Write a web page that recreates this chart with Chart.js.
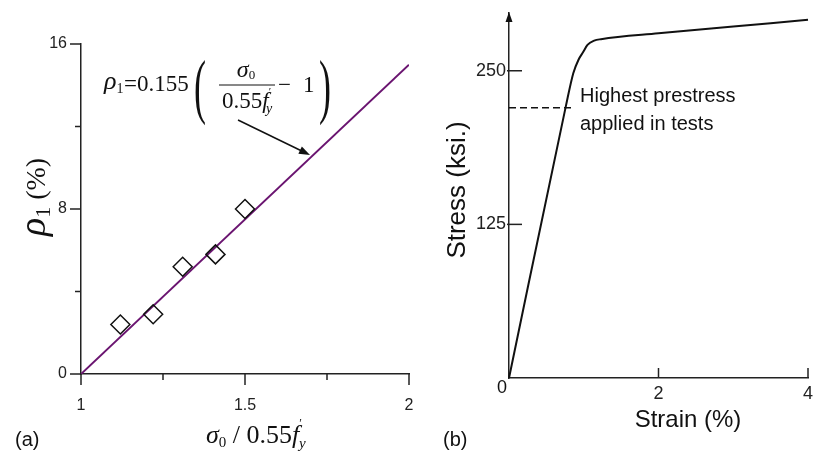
<!DOCTYPE html>
<html>
<head>
<meta charset="utf-8">
<script src="https://cdn.jsdelivr.net/npm/chart.js@4.4.0/dist/chart.umd.min.js"></script>
<style>
body { margin: 0; background: #fff; }
#wrapA { position: absolute; left: 0; top: 0; width: 420px; height: 451px; }
#wrapB { position: absolute; left: 420px; top: 0; width: 393px; height: 451px; }
</style>
</head>
<body>
<div id="wrapA"><canvas id="chartA" width="420" height="451"></canvas></div>
<div id="wrapB"><canvas id="chartB" width="393" height="451"></canvas></div>
<script>
// (a) reinforcement ratio against normalised prestress
var ratioX = [1.12, 1.22, 1.31, 1.41, 1.50];
var ratioY = [2.4, 2.9, 5.2, 5.8, 8.0];
var fitX = [1, 2];
var fitY = [0, 15];
var ticksAx = [1, 1.25, 1.5, 1.75, 2];
var labelsAx = ['1', '', '1.5', '', '2'];
var ticksAy = [0, 4, 8, 12, 16];
var labelsAy = ['0', '', '8', '', '16'];

// (b) strand stress-strain curve
var strain = [0, 0.76, 0.86, 0.93, 0.99, 1.05, 1.14, 1.23, 2, 3, 4];
var stress = [0, 221, 248, 259, 265, 271, 274.5, 275.7, 280.5, 286, 291.5];
var prestressX = [0, 0.88];
var prestressY = [220, 220];
var ticksBx = [0, 2, 4];
var labelsBx = ['', '2', '4'];
var ticksBy = [0, 125, 250];
var labelsBy = ['', '125', '250'];

Chart.defaults.font.family = 'Liberation Sans';
Chart.defaults.color = '#222';

function pts(xs, ys) {
	var out = [];
	for (var i in xs) out.push({x: xs[i], y: ys[i]});
	return out;
}

// keep the plot box where it is, no extra room for edge labels
function noEdgePad(s) {
	s.paddingLeft = 0; s.paddingRight = 0; s.paddingTop = 0; s.paddingBottom = 0;
}

// tick marks drawn along the axes, offsets are [from, to] measured outward
var tickMarks = {
	id: 'tickMarks',
	afterDraw: function(chart, args, opts) {
		var ctx = chart.ctx, xs = chart.scales.x, ys = chart.scales.y;
		ctx.save();
		ctx.strokeStyle = '#222';
		ctx.lineWidth = 1.5;
		xs.ticks.forEach(function(t, i) {
			var px = xs.getPixelForValue(t.value), s = opts.x[i];
			ctx.beginPath();
			ctx.moveTo(px, xs.top + s[0]);
			ctx.lineTo(px, xs.top + s[1]);
			ctx.stroke();
		});
		ys.ticks.forEach(function(t, i) {
			var py = ys.getPixelForValue(t.value), s = opts.y[i];
			ctx.beginPath();
			ctx.moveTo(ys.right - s[0], py);
			ctx.lineTo(ys.right - s[1], py);
			ctx.stroke();
		});
		ctx.restore();
	}
};

// draw a row of text pieces with their own fonts, returns the end x
function runs(ctx, parts, x, y) {
	parts.forEach(function(p) {
		ctx.font = p.f;
		ctx.fillText(p.t, x, y + (p.dy || 0));
		x += ctx.measureText(p.t).width;
	});
	return x;
}
function runsWidth(ctx, parts) {
	var w = 0;
	parts.forEach(function(p) { ctx.font = p.f; w += ctx.measureText(p.t).width; });
	return w;
}

var serif = 'Liberation Serif';

var annotA = {
	id: 'annotA',
	afterDraw: function(chart) {
		var ctx = chart.ctx;
		ctx.save();
		ctx.fillStyle = '#111';
		ctx.strokeStyle = '#111';
		ctx.textBaseline = 'alphabetic';

		// formula
		runs(ctx, [
			{t: 'ρ', f: 'italic 26px ' + serif},
			{t: '1', f: '14px ' + serif, dy: 4}
		], 104, 89);
		runs(ctx, [{t: '=', f: '23px ' + serif}], 124, 91);
		runs(ctx, [{t: '0.155', f: '23px ' + serif}], 137, 91);
		ctx.save();
		ctx.font = '300 72px ' + serif;
		ctx.translate(194, 110);
		ctx.scale(0.5, 1);
		ctx.fillText('(', 0, 0);
		ctx.restore();
		ctx.save();
		ctx.font = '300 72px ' + serif;
		ctx.translate(319, 110);
		ctx.scale(0.5, 1);
		ctx.fillText(')', 0, 0);
		ctx.restore();
		var num = [{t: 'σ', f: 'italic 24px ' + serif}, {t: '0', f: '13px ' + serif, dy: 2}];
		runs(ctx, num, 246 - runsWidth(ctx, num) / 2, 77);
		ctx.lineWidth = 1;
		ctx.beginPath(); ctx.moveTo(219, 85); ctx.lineTo(275, 85); ctx.stroke();
		runs(ctx, [
			{t: '0.55', f: '23px ' + serif},
			{t: 'f', f: 'italic 23px ' + serif},
			{t: '\u2032', f: '11px ' + serif, dy: -13}
		], 222, 108);
		runs(ctx, [{t: 'y', f: 'italic 14px ' + serif}], 266, 113);
		runs(ctx, [{t: '\u2212', f: '23px ' + serif}], 278, 92);
		runs(ctx, [{t: '1', f: '23px ' + serif}], 303, 92);

		// arrow to the fit line
		var x0 = 238, y0 = 120, x1 = 310, y1 = 155;
		var ang = Math.atan2(y1 - y0, x1 - x0);
		ctx.lineWidth = 1.5;
		ctx.beginPath(); ctx.moveTo(x0, y0); ctx.lineTo(x1 - 8 * Math.cos(ang), y1 - 8 * Math.sin(ang)); ctx.stroke();
		ctx.beginPath();
		ctx.moveTo(x1, y1);
		ctx.lineTo(x1 - 11 * Math.cos(ang) + 4 * Math.sin(ang), y1 - 11 * Math.sin(ang) - 4 * Math.cos(ang));
		ctx.lineTo(x1 - 11 * Math.cos(ang) - 4 * Math.sin(ang), y1 - 11 * Math.sin(ang) + 4 * Math.cos(ang));
		ctx.closePath(); ctx.fill();

		// y title
		var yt = [
			{t: 'ρ', f: 'italic 38px ' + serif},
			{t: '1', f: '22px ' + serif, dy: 5},
			{t: ' (%)', f: '28px ' + serif}
		];
		ctx.save();
		ctx.translate(35, 197);
		ctx.rotate(-Math.PI / 2);
		runs(ctx, yt, -runsWidth(ctx, yt) / 2, 10);
		ctx.restore();

		// x title
		var xt = [
			{t: 'σ', f: 'italic 26px ' + serif},
			{t: '0', f: '15px ' + serif, dy: 4},
			{t: ' / 0.55', f: '26px ' + serif},
			{t: 'f', f: 'italic 26px ' + serif},
			{t: '\u2032', f: '12px ' + serif, dy: -16}
		];
		var xe = runs(ctx, xt, 206, 443);
		runs(ctx, [{t: 'y', f: 'italic 15px ' + serif}], xe - 3, 448);

		ctx.font = '20px Liberation Sans';
		ctx.fillText('(a)', 15, 446);
		ctx.restore();
	}
};

var annotB = {
	id: 'annotB',
	afterDraw: function(chart) {
		var ctx = chart.ctx, a = chart.chartArea, xs = chart.scales.x, ys = chart.scales.y;
		ctx.save();
		ctx.fillStyle = '#111';
		ctx.strokeStyle = '#111';

		// arrow head on the stress axis
		ctx.beginPath();
		ctx.moveTo(a.left, a.top - 1);
		ctx.lineTo(a.left - 3.5, a.top + 9);
		ctx.lineTo(a.left + 3.5, a.top + 9);
		ctx.closePath(); ctx.fill();

		ctx.font = '18px Liberation Sans';
		ctx.textAlign = 'center';
		ctx.textBaseline = 'middle';
		ctx.fillText('0', xs.getPixelForValue(0) - 7, ys.getPixelForValue(0) + 10);

		ctx.textAlign = 'left';
		ctx.textBaseline = 'alphabetic';
		ctx.font = '20px Liberation Sans';
		ctx.fillText('Highest prestress', 160, 102);
		ctx.fillText('applied in tests', 160, 130);

		ctx.font = '24px Liberation Sans';
		ctx.textAlign = 'center';
		ctx.fillText('Strain (%)', 268, 427);
		ctx.save();
		ctx.translate(38, 190);
		ctx.rotate(-Math.PI / 2);
		ctx.textBaseline = 'middle';
		ctx.font = '26px Liberation Sans';
		ctx.fillText('Stress (ksi.)', 0, 0);
		ctx.restore();

		ctx.textAlign = 'left';
		ctx.font = '20px Liberation Sans';
		ctx.fillText('(b)', 23, 446);
		ctx.restore();
	}
};

new Chart(document.getElementById('chartA'), {
	type: 'scatter',
	data: {
		datasets: [
			{
				type: 'line',
				data: pts(fitX, fitY),
				borderColor: '#6a1470',
				borderWidth: 2,
				pointRadius: 0,
				fill: false,
				order: 2
			},
			{
				data: pts(ratioX, ratioY),
				pointStyle: 'rectRot',
				pointRadius: 9.5,
				borderColor: '#111',
				borderWidth: 1.5,
				backgroundColor: 'rgba(0,0,0,0)',
				order: 1
			}
		]
	},
	options: {
		responsive: false,
		animation: false,
		events: [],
		layout: {padding: {left: 0, top: 44, right: 10, bottom: 0}},
		plugins: {
			legend: {display: false},
			tooltip: {enabled: false},
			tickMarks: {
				x: [[0, 11], [0, 6], [0, 11], [0, 6], [0, 11]],
				y: [[0, 11], [0, 6], [0, 11], [0, 6], [0, 11]]
			}
		},
		scales: {
			x: {
				type: 'linear', min: 1, max: 2,
				afterBuildTicks: function(s) { s.ticks = ticksAx.map(function(v) { return {value: v}; }); },
				afterFit: function(s) { s.height = 77; noEdgePad(s); },
				grid: {display: false, drawTicks: false},
				border: {color: '#222', width: 1.5},
				ticks: {autoSkip: false, maxRotation: 0, padding: 22, font: {size: 16}, callback: function(v, i) { return labelsAx[i]; }}
			},
			y: {
				type: 'linear', min: 0, max: 16,
				afterBuildTicks: function(s) { s.ticks = ticksAy.map(function(v) { return {value: v}; }); },
				afterFit: function(s) { s.width = 81; noEdgePad(s); },
				grid: {display: false, drawTicks: false},
				border: {color: '#222', width: 1.5},
				ticks: {autoSkip: false, padding: 14, font: {size: 16}, callback: function(v, i) { return labelsAy[i]; }}
			}
		}
	},
	plugins: [tickMarks, annotA]
});

new Chart(document.getElementById('chartB'), {
	type: 'scatter',
	data: {
		datasets: [
			{
				type: 'line',
				data: pts(strain, stress),
				borderColor: '#111',
				borderWidth: 2,
				pointRadius: 0,
				cubicInterpolationMode: 'monotone',
				fill: false,
				clip: false
			},
			{
				type: 'line',
				data: pts(prestressX, prestressY),
				borderColor: '#111',
				borderWidth: 1.5,
				borderDash: [7, 4],
				pointRadius: 0,
				fill: false
			}
		]
	},
	options: {
		responsive: false,
		animation: false,
		events: [],
		layout: {padding: {left: 0, top: 13, right: 5, bottom: 0}},
		plugins: {
			legend: {display: false},
			tooltip: {enabled: false},
			tickMarks: {
				x: [[0, 0], [-10, 0], [-10, 0]],
				y: [[0, 0], [-13, 2], [-13, 2]]
			}
		},
		scales: {
			x: {
				type: 'linear', min: 0, max: 4,
				afterBuildTicks: function(s) { s.ticks = ticksBx.map(function(v) { return {value: v}; }); },
				afterFit: function(s) { s.height = 73; noEdgePad(s); },
				grid: {display: false, drawTicks: false},
				border: {color: '#222', width: 1.5},
				ticks: {autoSkip: false, maxRotation: 0, padding: 5, font: {size: 18}, callback: function(v, i) { return labelsBx[i]; }}
			},
			y: {
				type: 'linear', min: 0, max: 297,
				afterBuildTicks: function(s) { s.ticks = ticksBy.map(function(v) { return {value: v}; }); },
				afterFit: function(s) { s.width = 89; noEdgePad(s); },
				grid: {display: false, drawTicks: false},
				border: {color: '#222', width: 1.5},
				ticks: {autoSkip: false, padding: 3, font: {size: 18}, callback: function(v, i) { return labelsBy[i]; }}
			}
		}
	},
	plugins: [tickMarks, annotB]
});
</script>
</body>
</html>
